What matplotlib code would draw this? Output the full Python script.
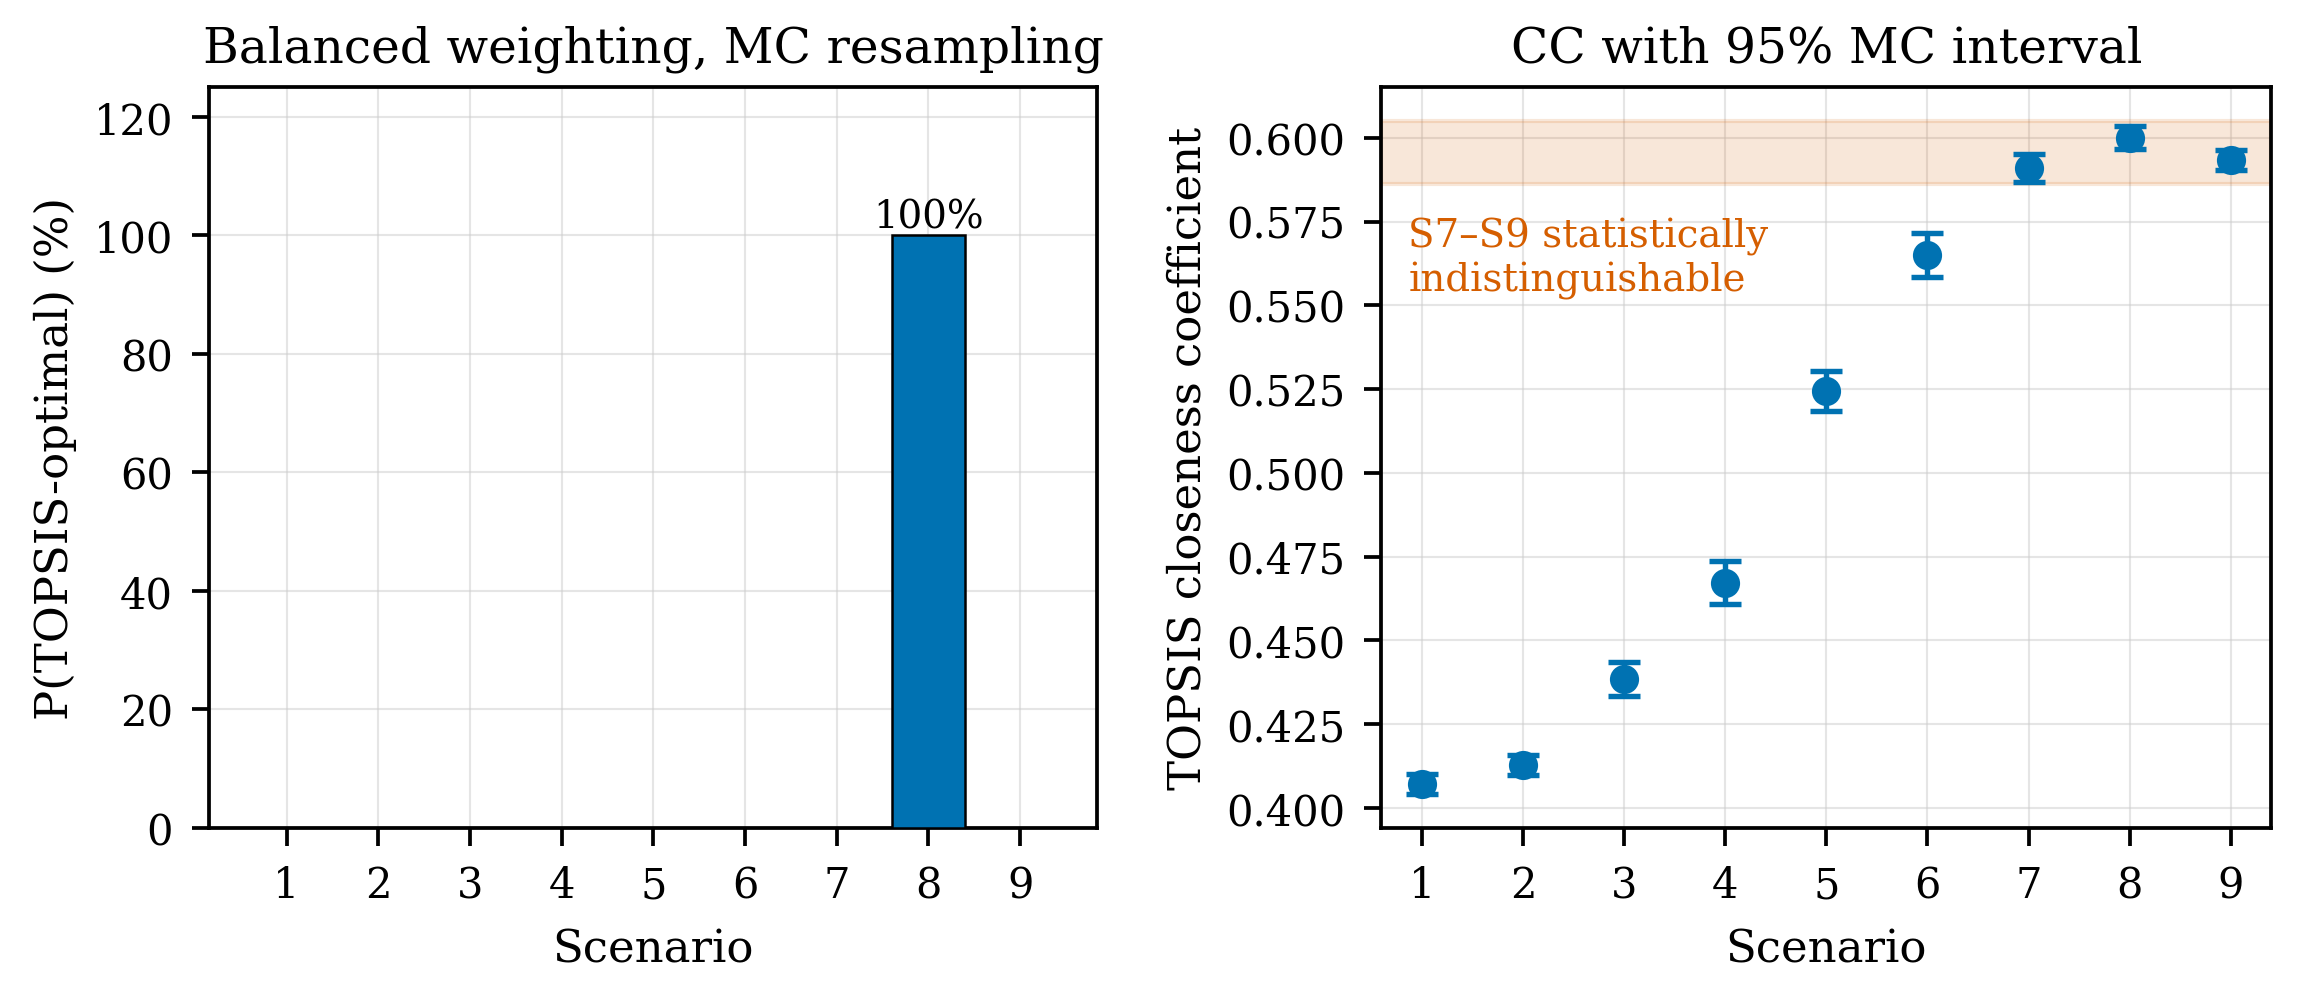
import matplotlib
matplotlib.use("Agg")
import matplotlib.pyplot as plt
from matplotlib.ticker import FormatStrFormatter
import numpy as np

plt.rcParams['font.family'] = ['DejaVu Serif']
plt.rcParams['axes.linewidth'] = 0.9
for a in ('xtick', 'ytick'):
    plt.rcParams[f'{a}.major.width'] = 0.9
    plt.rcParams[f'{a}.major.size'] = 4.2
    plt.rcParams[f'{a}.major.pad'] = 4.5

scenarios = [1, 2, 3, 4, 5, 6, 7, 8, 9]
p_optimal = [0, 0, 0, 0, 0, 0, 0, 100, 0]
p_ticks = [0, 20, 40, 60, 80, 100, 120]

cc_mean = [0.4070, 0.4127, 0.4385, 0.4672, 0.5244, 0.5650, 0.5910, 0.6001, 0.5934]
cc_err = [0.0030, 0.0030, 0.0050, 0.0065, 0.0060, 0.0065, 0.0043, 0.0035, 0.0031]
cc_ticks = [0.400, 0.425, 0.450, 0.475, 0.500, 0.525, 0.550, 0.575, 0.600]
band = [0.5862, 0.6051]

blue = '#0072B2'
orange = '#D55E00'

TITLE = 11.7
LABEL = 10.8
TICK = 10.0
NOTE = 9.3

fig = plt.figure(figsize=(7.657, 3.273), dpi=300)
ax1 = fig.add_axes([0.0912, 0.1558, 0.3864, 0.7546])
ax2 = fig.add_axes([0.6014, 0.1558, 0.3873, 0.7546])

# Left panel
ax1.bar(scenarios, p_optimal, width=0.8, color=blue, edgecolor='black', linewidth=0.6, zorder=3)
for x, v in zip(scenarios, p_optimal):
    if v > 0:
        ax1.text(x, v, f"{v:.0f}%", ha='center', va='bottom', fontsize=NOTE)
ax1.set_ylim(0, 125)
ax1.set_xticks(scenarios)
ax1.set_yticks(p_ticks)
ax1.set_xlabel("Scenario", fontsize=LABEL, labelpad=5.1)
ax1.set_ylabel("P(TOPSIS-optimal) (%)", fontsize=LABEL)
ax1.set_title("Balanced weighting, MC resampling", fontsize=TITLE)
ax1.grid(True, color='#cccccc', alpha=0.5, linewidth=0.5)
ax1.set_axisbelow(True)

# Right panel
ax2.axhspan(band[0], band[1], facecolor=orange, edgecolor=orange, alpha=0.15, linewidth=1.0, zorder=1)
ax2.errorbar(scenarios, cc_mean, yerr=cc_err, fmt='o', color=blue, markersize=6,
             capsize=3.8, elinewidth=1.3, capthick=1.3, zorder=3)
ax2.text(0.03, 0.825, "S7–S9 statistically\nindistinguishable", transform=ax2.transAxes,
         ha='left', va='top', color=orange, fontsize=NOTE)
ax2.set_xticks(scenarios)
ax2.set_yticks(cc_ticks)
ax2.yaxis.set_major_formatter(FormatStrFormatter('%.3f'))
ax2.set_xlabel("Scenario", fontsize=LABEL, labelpad=5.1)
ax2.set_ylabel("TOPSIS closeness coefficient", fontsize=LABEL)
ax2.set_title("CC with 95% MC interval", fontsize=TITLE)
ax2.grid(True, color='#cccccc', alpha=0.5, linewidth=0.5)
ax2.set_axisbelow(True)

for ax in (ax1, ax2):
    ax.tick_params(labelsize=TICK)

fig.savefig("out.png", dpi=300)
